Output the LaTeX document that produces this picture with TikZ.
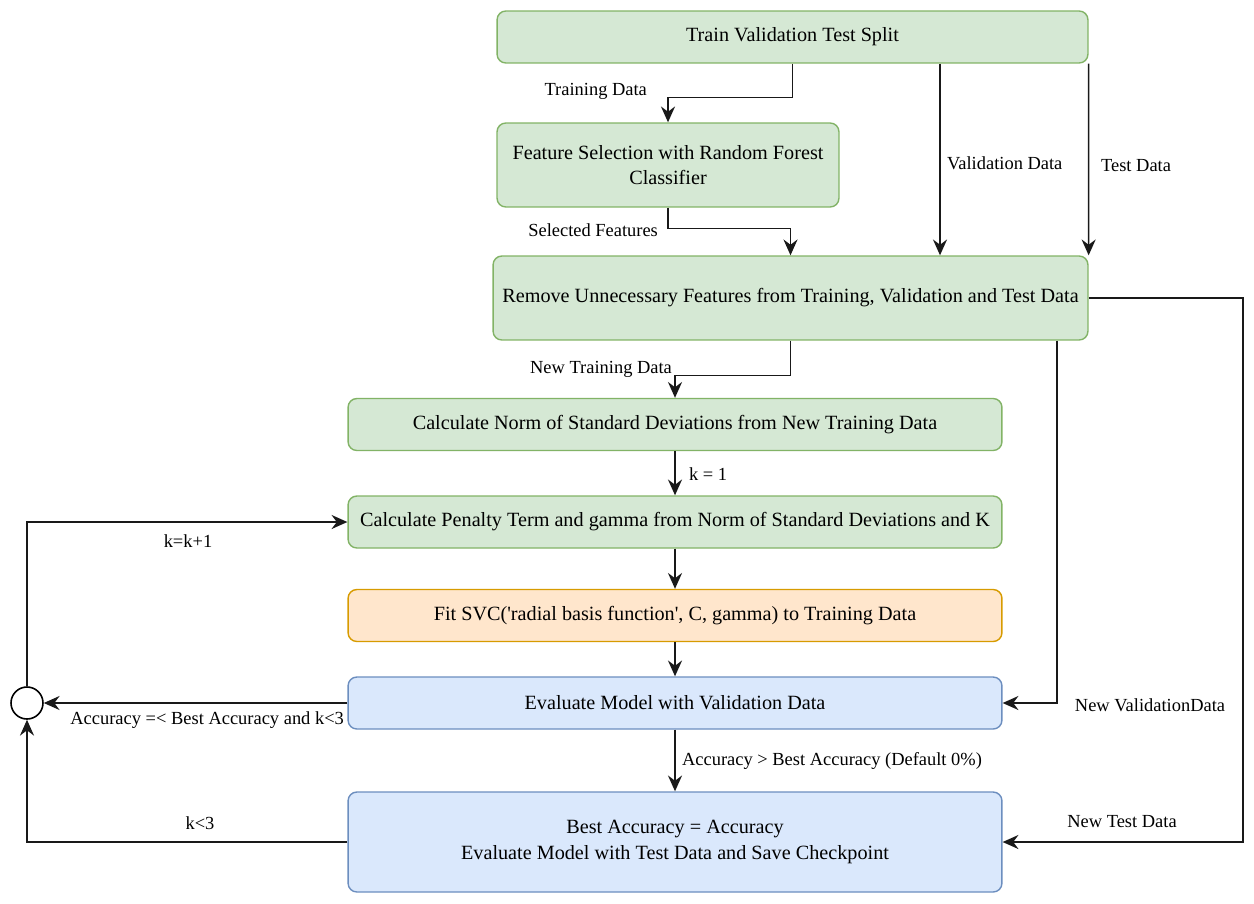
\documentclass[tikz,border=0pt]{standalone}
\usepackage{fontspec}
\setmainfont{Liberation Serif}
\usetikzlibrary{arrows.meta}

\definecolor{gfill}{HTML}{D5E8D4}
\definecolor{gline}{HTML}{82B366}
\definecolor{ofill}{HTML}{FFE6CC}
\definecolor{oline}{HTML}{D79B00}
\definecolor{bfill}{HTML}{DAE8FC}
\definecolor{bline}{HTML}{6C8EBF}

\begin{document}
\begin{tikzpicture}[x=0.02cm, y=-0.02cm,
        font=\fontsize{11.5}{14.5}\selectfont,
        box/.style={rectangle, rounded corners=5pt, draw, line width=0.8pt,
          align=center, inner sep=2pt, minimum width=13.08cm, minimum height=1.04cm},
        gbox/.style={box, draw=gline, fill=gfill},
        obox/.style={box, draw=oline, fill=ofill},
        bluebox/.style={box, draw=bline, fill=bfill},
        lbl/.style={inner sep=1pt, font=\fontsize{10.5}{13}\selectfont},
        arr/.style={-{Stealth[length=9pt, width=8pt, inset=3pt]},
          line width=0.9pt, black!90}]

      \useasboundingbox (0,0) rectangle (1254,903);

      % top part
      \node[gbox, minimum width=11.82cm] (split) at (792.5,37) {Train Validation Test Split};
      \node[gbox, minimum width=6.84cm, minimum height=1.68cm] (feat) at (668,165)
        {Feature Selection with Random Forest\\Classifier};
      \node[gbox, minimum width=11.9cm, minimum height=1.68cm] (remove) at (790.5,298)
        {Remove Unnecessary Features from Training, Validation and Test Data};

      % main stack
      \node[gbox] (norm) at (675,424.5) {Calculate Norm of Standard Deviations from New Training Data};
      \node[gbox] (pen) at (675,522) {Calculate Penalty Term and gamma from Norm of Standard Deviations and K};
      \node[obox] (fit) at (675,615.5)
        {Fit SVC(\textquotesingle radial basis function\textquotesingle, C, gamma) to Training Data};
      \node[bluebox] (eval) at (675,703) {Evaluate Model with Validation Data};
      \node[bluebox, minimum height=2cm] (best) at (675,842)
        {Best Accuracy = Accuracy\\Evaluate Model with Test Data and Save Checkpoint};
      \node[circle, draw, line width=0.9pt, fill=white, minimum size=0.64cm, inner sep=0pt]
        (loop) at (27,703) {};

      \coordinate (vx) at (940,0);
      \coordinate (nv) at (1057,0);
      \coordinate (rx) at (1243,0);

      % data flow
      \draw[arr] (split.south) -- ++(0,34) -| (feat.north);
      \draw[arr] (split.south -| vx) -- (remove.north -| vx);
      \draw[arr] (split.south east) -- (remove.north east);
      \draw[arr] (feat.south) -- ++(0,21) -| (remove.north);
      \draw[arr] (remove.south) -- ++(0,35) -| (norm.north);
      \draw[arr] (remove.south -| nv) |- (eval.east);
      \draw[arr] (remove.east) -- (remove.east -| rx) |- (best.east);

      \draw[arr] (norm) -- (pen);
      \draw[arr] (pen) -- (fit);
      \draw[arr] (fit) -- (eval);
      \draw[arr] (eval) -- (best);

      % loop back
      \draw[arr] (eval.west) -- (loop.east);
      \draw[arr] (best.west) -| (loop.south);
      \draw[arr] (loop.north) |- (pen.west);

      % labels
      \node[lbl, anchor=east] (l1) at (649,91) {Training Data};
      \node[lbl, anchor=west] (l2) at (945,163) {Validation Data};
      \node[lbl, anchor=west] (l3) at (1099,166) {Test Data};
      \node[lbl, anchor=east] (l4) at (660,230) {Selected Features};
      \node[lbl, anchor=east] (l5) at (674,369) {New Training Data};
      \node[lbl, anchor=west] (l6) at (687,474) {k = 1};
      \node[lbl] (l7) at (188,541) {k=k+1};
      \node[lbl, anchor=east] (l8) at (346,720) {Accuracy =< Best Accuracy and k<3};
      \node[lbl] (l9) at (1150,705) {New ValidationData};
      \node[lbl, anchor=west] (l10) at (680,761) {Accuracy > Best Accuracy (Default 0\%)};
      \node[lbl] (l11) at (200,823) {k<3};
      \node[lbl] (l12) at (1122,822) {New Test Data};
    \end{tikzpicture}
\end{document}
